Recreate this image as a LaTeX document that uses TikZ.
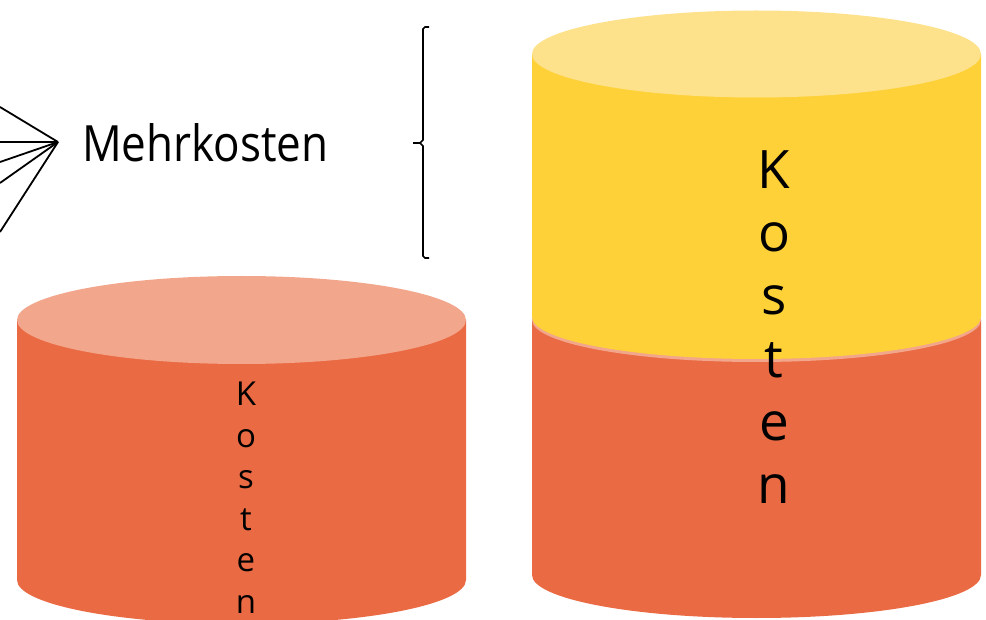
\documentclass[tikz,border=0pt]{standalone}
\usepackage{fontspec}
\setmainfont{Open Sans}
\definecolor{orbody}{HTML}{EA6A43}
\definecolor{ortop}{HTML}{F2A68C}
\definecolor{yebody}{HTML}{FED138}
\definecolor{yetop}{HTML}{FDE28B}
\begin{document}
\begin{tikzpicture}[x=1pt,y=-1pt,
  fanline/.style={draw=black,line width=1.8pt},
  bracel/.style={draw=black,line width=1.6pt},
  vlab/.style={align=center,inner sep=0pt,anchor=north,text=black}]
\useasboundingbox (0,0) rectangle (986,620);
\clip (0,0) rectangle (986,620);
% left cylinder
\fill[orbody] (17,320) -- (17,580) arc[start angle=180,end angle=0,x radius=224.5,y radius=44] -- (466,320) -- cycle;
\fill[ortop] (241.5,320) ellipse[x radius=224.5,y radius=44];
% right lower orange cylinder
\fill[orbody] (532,320) -- (532,575) arc[start angle=180,end angle=0,x radius=224.5,y radius=43] -- (981,320) -- cycle;
\fill[ortop] (756.5,320) ellipse[x radius=224.5,y radius=42];
% yellow cylinder
\fill[yebody] (532,54) -- (532,317) arc[start angle=180,end angle=0,x radius=224.5,y radius=42] -- (981,54) -- cycle;
\fill[yetop] (756.5,54) ellipse[x radius=224.5,y radius=43.5];
% labels
\node[vlab,font=\fontsize{33}{41.5}\selectfont] (kl) at (246,382) {K\\o\\s\\t\\e\\n};
\node[vlab,font=\fontsize{53}{63}\selectfont] (kr) at (774,150) {K\\o\\s\\t\\e\\n};
\node[anchor=base west,inner sep=0pt,xscale=0.88,font=\fontsize{50}{60}\selectfont] (mk) at (82,162) {Mehrkosten};
% fan
\coordinate (tip) at (58,142);
\coordinate (f1) at (0,107);
\coordinate (f2) at (0,142);
\coordinate (f3) at (0,162);
\coordinate (f4) at (0,183);
\coordinate (f5) at (0,232);
\foreach \f in {f1,f2,f3,f4,f5} \draw[fanline] (tip) -- (\f);
% brace
\coordinate (bt) at (429,27);
\coordinate (bm) at (413,143);
\coordinate (bb) at (429,258);
\draw[bracel] (bt) -- (425,27) -- (423,29) -- (423,140) -- (420,143) -- (bm);
\draw[bracel] (420,143) -- (423,146) -- (423,256) -- (425,258) -- (bb);
\end{tikzpicture}
\end{document}
